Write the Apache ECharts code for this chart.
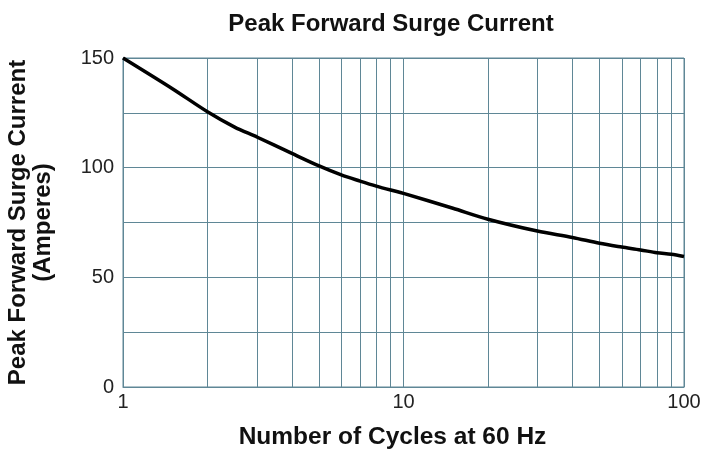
<!DOCTYPE html>
<html>
<head>
<meta charset="utf-8">
<script src="https://cdn.jsdelivr.net/npm/echarts@6/dist/echarts.min.js"></script>
<style>html,body{margin:0;padding:0;background:#fff}#c{width:704px;height:451px}</style>
</head>
<body>
<div id="c"></div>
<script>
var cycles = [1, 1.5, 2, 2.5, 3, 4, 5, 6, 7, 8, 9, 10, 15, 20, 30, 40, 50, 60, 70, 80, 90, 100];
var current = [150, 136, 125.5, 118.5, 114, 106.5, 100.8, 96.7, 93.9, 91.6, 89.8, 88.3, 81.5, 76.5, 71.1, 68.2, 65.5, 63.8, 62.5, 61.2, 60.5, 59.5];
var minorGridX = [2, 3, 4, 5, 6, 7, 8, 9, 20, 30, 40, 50, 60, 70, 80, 90];
var yLabels = [0, 50, 100, 150];

var gridColor = '#5f8796';
var chart = echarts.init(document.getElementById('c'));
chart.setOption({
  animation: false,
  backgroundColor: '#fff',
  title: {
    text: 'Peak Forward Surge Current',
    left: 386, top: 7, textAlign: 'center',
    textStyle: {fontFamily: 'Liberation Sans', fontWeight: 'bold', fontSize: 24, color: '#111'}
  },
  grid: {left: 123, right: 20, top: 58, bottom: 64, show: true, borderColor: gridColor, borderWidth: 1,
         containLabel: false, outerBoundsMode: 'none'},
  xAxis: {
    type: 'log', logBase: 10, min: 1, max: 100,
    name: 'Number of Cycles at 60 Hz', nameLocation: 'middle', nameGap: 38,
    nameTextStyle: {fontFamily: 'Liberation Sans', fontWeight: 'bold', fontSize: 24.5, color: '#111',
                    padding: [0, 22, 0, 0]},
    axisLine: {lineStyle: {color: gridColor}},
    axisTick: {show: false},
    axisLabel: {fontFamily: 'Liberation Sans', fontSize: 20, color: '#222', margin: 5},
    splitLine: {show: true, lineStyle: {color: gridColor, width: 1}}
  },
  yAxis: {
    type: 'value', min: 0, max: 150, interval: 25,
    name: 'Peak Forward Surge Current\n(Amperes)', nameLocation: 'middle', nameGap: 67, nameRotate: 90,
    nameTextStyle: {fontFamily: 'Liberation Sans', fontWeight: 'bold', fontSize: 24, color: '#111', lineHeight: 25},
    axisLine: {show: true, lineStyle: {color: gridColor}},
    axisTick: {show: false},
    axisLabel: {
      fontFamily: 'Liberation Sans', fontSize: 20, color: '#222', margin: 9,
      formatter: function (v) { return yLabels.indexOf(v) >= 0 ? String(v) : ''; }
    },
    splitLine: {show: true, lineStyle: {color: gridColor, width: 1}}
  },
  series: [{
    type: 'line',
    data: cycles.map(function (c, i) { return [c, current[i]]; }),
    smooth: 0.3,
    showSymbol: false,
    lineStyle: {color: '#000', width: 3.5},
    markLine: {
      silent: true, symbol: 'none', label: {show: false},
      lineStyle: {color: gridColor, width: 1, type: 'solid'},
      data: minorGridX.map(function (v) { return {xAxis: v}; })
    },
    z: 5
  }]
});
</script>
</body>
</html>
